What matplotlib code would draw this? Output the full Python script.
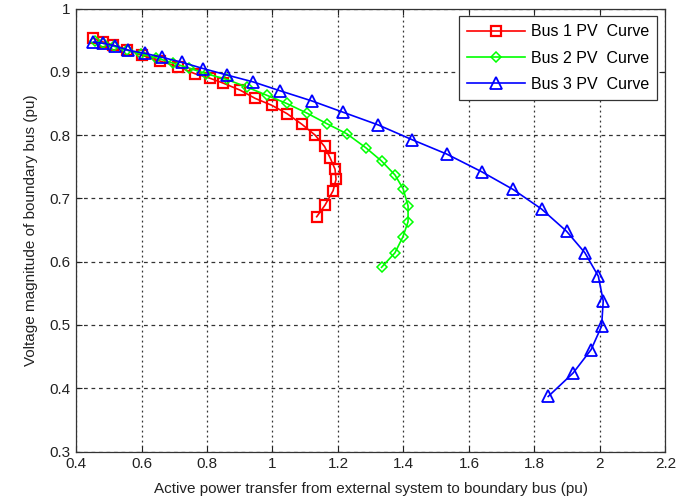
"""
Curvas PV de los tres buses frontera (estilo MATLAB).
"""

import matplotlib
matplotlib.use("Agg")
import matplotlib.pyplot as plt

plt.rcParams["font.family"] = ["Liberation Sans", "DejaVu Sans"]

# ── Datos ─────────────────────────────────────────────────────────────────────

bus1_p = [0.453, 0.483, 0.514, 0.555, 0.601, 0.656, 0.712, 0.763, 0.808, 0.850,
          0.901, 0.947, 0.998, 1.044, 1.090, 1.130, 1.159, 1.176, 1.191, 1.194,
          1.185, 1.160, 1.135]
bus1_v = [0.953, 0.947, 0.942, 0.935, 0.926, 0.917, 0.908, 0.897, 0.890, 0.882,
          0.871, 0.858, 0.847, 0.834, 0.817, 0.800, 0.782, 0.764, 0.746, 0.730,
          0.712, 0.689, 0.671]

bus2_p = [0.458, 0.483, 0.517, 0.557, 0.599, 0.645, 0.695, 0.744, 0.797, 0.860,
          0.921, 0.982, 1.043, 1.104, 1.166, 1.227, 1.285, 1.333, 1.374, 1.399,
          1.414, 1.414, 1.398, 1.374, 1.333]
bus2_v = [0.948, 0.945, 0.940, 0.934, 0.928, 0.922, 0.914, 0.906, 0.897, 0.888,
          0.876, 0.863, 0.850, 0.835, 0.818, 0.802, 0.780, 0.759, 0.737, 0.715,
          0.688, 0.663, 0.639, 0.614, 0.591]

bus3_p = [0.453, 0.483, 0.519, 0.560, 0.611, 0.662, 0.723, 0.789, 0.860, 0.941,
          1.023, 1.120, 1.216, 1.323, 1.425, 1.532, 1.639, 1.735, 1.822, 1.898,
          1.954, 1.995, 2.010, 2.005, 1.973, 1.918, 1.842]
bus3_v = [0.947, 0.945, 0.941, 0.934, 0.929, 0.923, 0.915, 0.905, 0.895, 0.884,
          0.870, 0.854, 0.836, 0.816, 0.793, 0.770, 0.742, 0.714, 0.683, 0.648,
          0.614, 0.577, 0.538, 0.498, 0.461, 0.424, 0.387]

x_ticks = [0.4, 0.6, 0.8, 1.0, 1.2, 1.4, 1.6, 1.8, 2.0, 2.2]
x_labels = ["0.4", "0.6", "0.8", "1", "1.2", "1.4", "1.6", "1.8", "2", "2.2"]
y_ticks = [0.3, 0.4, 0.5, 0.6, 0.7, 0.8, 0.9, 1.0]
y_labels = ["0.3", "0.4", "0.5", "0.6", "0.7", "0.8", "0.9", "1"]

# ── Gráfica ───────────────────────────────────────────────────────────────────

fig = plt.figure(figsize=(6.83, 5.0), dpi=100)
ax = fig.add_axes([0.1113, 0.097, 0.863, 0.886])

ax.plot(bus1_p, bus1_v, "-s", color="red", lw=1.2, ms=7.5, mfc="none", mew=1.6,
        label="Bus 1 PV  Curve")
ax.plot(bus2_p, bus2_v, "-D", color="#00ff00", lw=1.2, ms=5.5, mfc="none", mew=1.1,
        label="Bus 2 PV  Curve")
ax.plot(bus3_p, bus3_v, "-^", color="blue", lw=1.2, ms=8, mfc="none", mew=1.3,
        label="Bus 3 PV  Curve")

ax.set_xlim(0.4, 2.2)
ax.set_ylim(0.3, 1.0)
ax.set_xticks(x_ticks)
ax.set_xticklabels(x_labels)
ax.set_yticks(y_ticks)
ax.set_yticklabels(y_labels)
ax.tick_params(direction="in", top=True, right=True, labelsize=11,
               colors="#222222", length=4)
ax.tick_params(axis="x", pad=4)
ax.tick_params(axis="y", pad=4)

ax.xaxis.grid(True, color="#333333", linestyle=(0, (1.5, 2.5)), linewidth=0.9)
ax.yaxis.grid(True, color="#333333", linestyle=(0, (3, 3)), linewidth=0.9)

for s in ax.spines.values():
    s.set_color("#333333")
    s.set_linewidth(0.9)

ax.set_xlabel("Active power transfer from external system to boundary bus (pu)",
              fontsize=11, color="#222222", labelpad=8)
ax.set_ylabel("Voltage magnitude of boundary bus (pu)",
              fontsize=11, color="#222222", labelpad=8)

leg = ax.legend(loc="upper right", fontsize=11.5, fancybox=False, framealpha=1,
                edgecolor="#333333", handlelength=3.6, handletextpad=0.4,
                borderpad=0.5, labelspacing=0.7, borderaxespad=0.5)
leg.get_frame().set_linewidth(0.9)

fig.savefig("out.png", dpi=100)
